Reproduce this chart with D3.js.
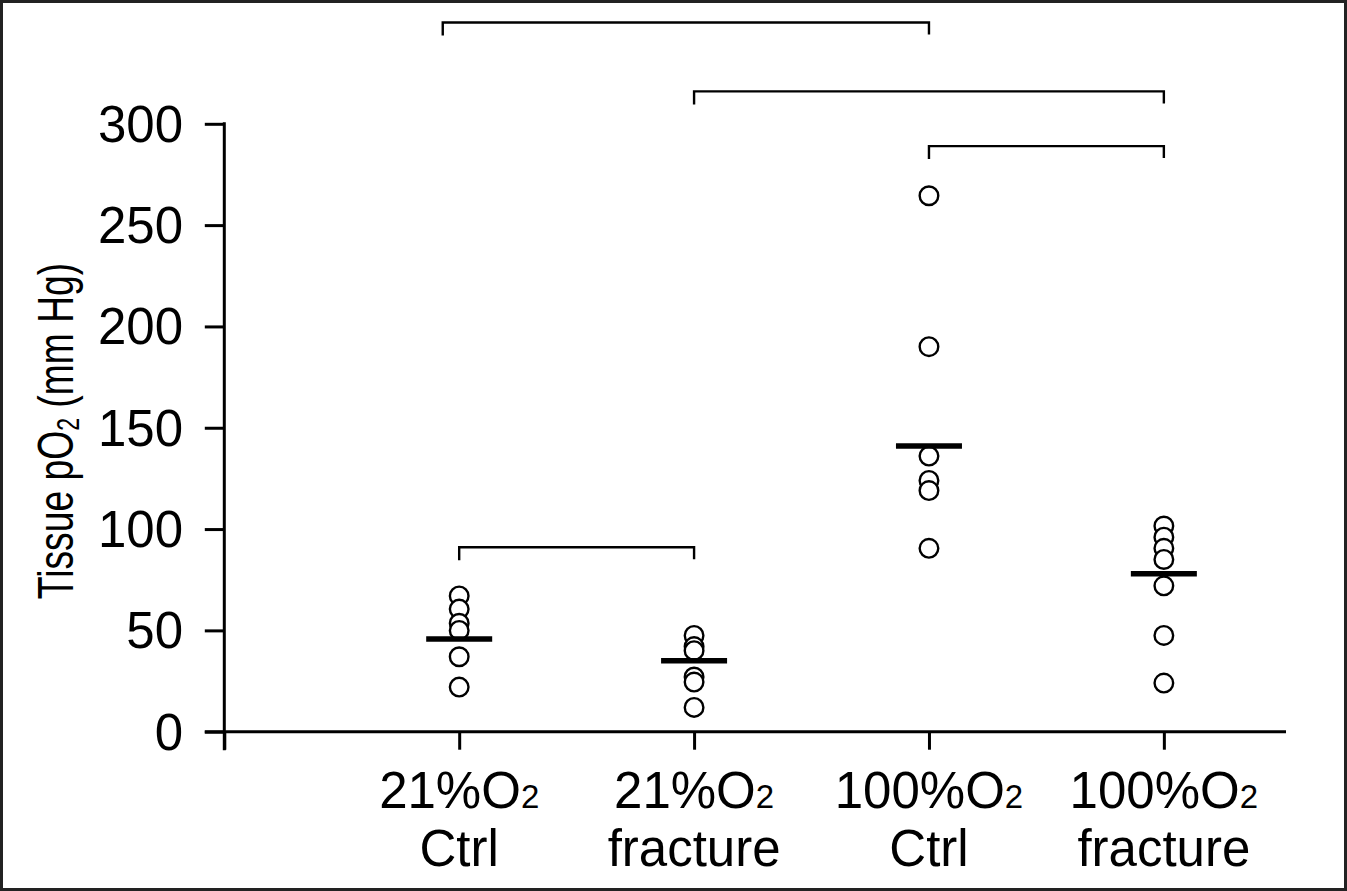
<!DOCTYPE html>
<html>
<head>
<meta charset="utf-8">
<script src="https://cdn.jsdelivr.net/npm/d3@7"></script>
<style>
  body { margin: 0; background: #fff; }
  svg { display: block; font-family: "Liberation Sans", Arial, sans-serif; }
</style>
</head>
<body>
<svg width="1347" height="891"></svg>
<script>
var width = 1347;
var height = 891;

// group labels (two lines each)
var labelTop = ["21%O2", "21%O2", "100%O2", "100%O2"];
var labelBottom = ["Ctrl", "fracture", "Ctrl", "fracture"];

// individual tissue pO2 readings per group (mm Hg)
var ctrl21 = [67, 60.5, 53.5, 50, 37, 22];
var frac21 = [47.5, 42, 40, 27, 24.5, 12];
var ctrl100 = [264.5, 190, 136, 124, 119, 90.5];
var frac100 = [101.5, 96, 90.5, 85, 72, 47.5, 24];
var groupValues = [ctrl21, frac21, ctrl100, frac100];

// group means (horizontal bars)
var means = [45.7, 35, 141, 78];

var yTicks = [0, 50, 100, 150, 200, 250, 300];

// significance brackets: from / to in group slots, level in mm Hg
var brackets = [
  { from: 0.93, to: 3, level: 350 },
  { from: 2, to: 4, level: 316 },
  { from: 3, to: 4, level: 289 },
  { from: 1, to: 2, level: 91 }
];

var svg = d3.select("svg");

// frame round the whole figure
svg.append("rect")
  .attr("x", 1.5).attr("y", 1.5)
  .attr("width", width - 3).attr("height", height - 3)
  .attr("fill", "none")
  .attr("stroke", "#222")
  .attr("stroke-width", 3);

// slot 0 is the origin, groups sit at slots 1..4
var xScale = d3.scaleLinear().domain([0, 4.52]).range([224.3, 1286]);
var yScale = d3.scaleLinear().domain([0, 300]).range([731.7, 123.8]);

// Y AXIS
var yAxis = d3.axisLeft(yScale)
  .tickValues(yTicks)
  .tickSize(19)
  .tickSizeOuter(0)
  .tickFormat("");

var gy = svg.append("g")
  .attr("transform", `translate(${xScale(0)}, 0)`)
  .call(yAxis);
gy.select(".domain").remove();
gy.append("line")
  .attr("x1", 0).attr("x2", 0)
  .attr("y1", yScale(300) - 1.5).attr("y2", yScale(0) + 18.5)
  .attr("stroke", "#000").attr("stroke-width", 3);
gy.selectAll(".tick line").attr("stroke", "#000").attr("stroke-width", 3).attr("x2", -19.5);

// tick labels
svg.append("g").selectAll("text")
  .data(yTicks)
  .enter()
  .append("text")
  .attr("x", 183)
  .attr("y", (d) => yScale(d) + 18)
  .attr("text-anchor", "end")
  .attr("font-size", 51)
  .attr("fill", "#000")
  .text((d) => d);

// X AXIS
var xAxis = d3.axisBottom(xScale)
  .tickValues([0, 1, 2, 3, 4])
  .tickSize(18)
  .tickSizeOuter(0)
  .tickFormat("");

var gx = svg.append("g")
  .attr("transform", `translate(0, ${yScale(0)})`)
  .call(xAxis);
gx.select(".domain").remove();
gx.append("line")
  .attr("x1", xScale(0) - 19.5).attr("x2", xScale(4.52))
  .attr("y1", 0).attr("y2", 0)
  .attr("stroke", "#000").attr("stroke-width", 3);
gx.selectAll(".tick line").attr("stroke", "#000").attr("stroke-width", 3);

// group labels
var lab = svg.append("g").selectAll("g")
  .data(labelTop)
  .enter()
  .append("g")
  .attr("transform", (d, i) => `translate(${xScale(i + 1)}, 0)`);

var top1 = lab.append("text")
  .attr("y", 808)
  .attr("text-anchor", "middle")
  .attr("font-size", 51)
  .attr("fill", "#000");
top1.append("tspan").text((d) => d.slice(0, -1));
top1.append("tspan").attr("font-size", 33).text("2");

lab.append("text")
  .attr("y", 866)
  .attr("text-anchor", "middle")
  .attr("font-size", 51)
  .attr("fill", "#000")
  .text((d, i) => labelBottom[i]);

// Y AXIS TITLE (condensed along its length like the original)
var yTitle = svg.append("text")
  .attr("transform", "translate(73, 431) scale(1, 0.745) rotate(-90)")
  .attr("text-anchor", "middle")
  .attr("font-size", 50)
  .attr("fill", "#000");
yTitle.append("tspan").text("Tissue pO");
yTitle.append("tspan").attr("font-size", 31).attr("dy", 6).text("2");
yTitle.append("tspan").attr("dy", -6).text(" (mm Hg)");

// points
var pts = [];
groupValues.forEach((vals, gi) => vals.forEach((v) => pts.push({ g: gi, v: v })));

svg.append("g").selectAll("circle")
  .data(pts)
  .enter()
  .append("circle")
  .attr("cx", (d) => xScale(d.g + 1))
  .attr("cy", (d) => yScale(d.v))
  .attr("r", 9.3)
  .attr("fill", "#fff")
  .attr("stroke", "#000")
  .attr("stroke-width", 2.4);

// mean bars
svg.append("g").selectAll("line")
  .data(means)
  .enter()
  .append("line")
  .attr("x1", (d, i) => xScale(i + 1) - 33)
  .attr("x2", (d, i) => xScale(i + 1) + 33)
  .attr("y1", (d) => yScale(d))
  .attr("y2", (d) => yScale(d))
  .attr("stroke", "#000")
  .attr("stroke-width", 5.5);

// brackets
svg.append("g").selectAll("path")
  .data(brackets)
  .enter()
  .append("path")
  .attr("d", (d) => {
    var x1 = xScale(d.from), x2 = xScale(d.to), y = yScale(d.level);
    return `M${x1},${y + 13}V${y}H${x2}V${y + 12}`;
  })
  .attr("fill", "none")
  .attr("stroke", "#000")
  .attr("stroke-width", 2.4);
</script>
</body>
</html>
